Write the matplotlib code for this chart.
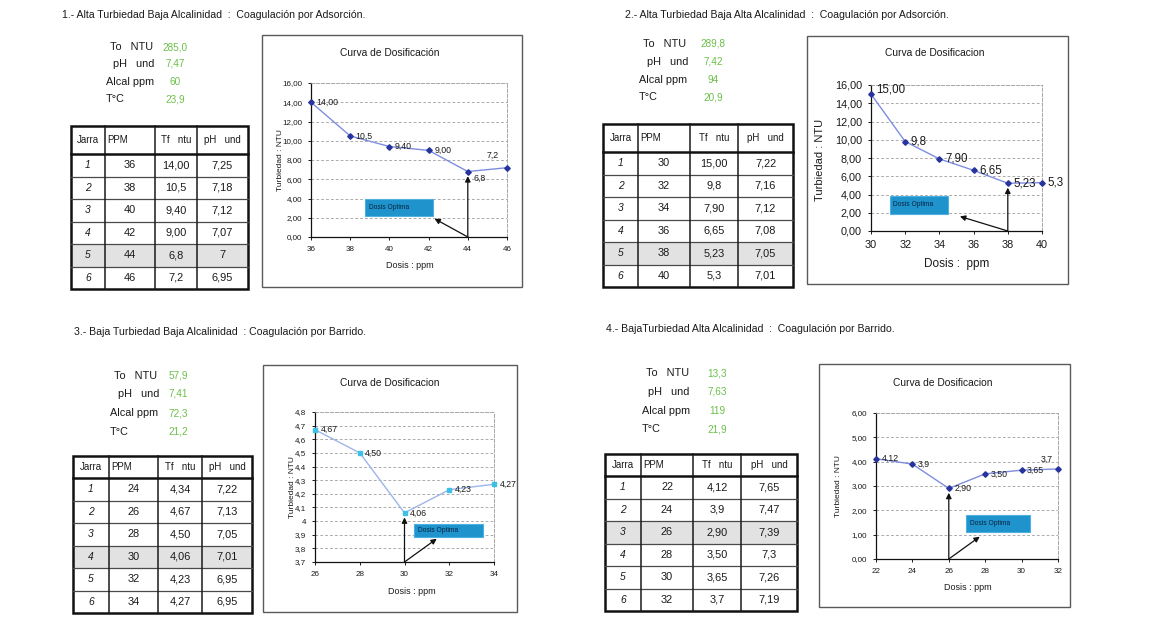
import matplotlib
matplotlib.use('Agg')
import matplotlib.pyplot as plt
from matplotlib.patches import Rectangle
from matplotlib.ticker import FixedLocator, FixedFormatter

W, H = 1163, 619
plt.rcParams['font.family'] = ['Liberation Sans Narrow', 'Liberation Sans', 'DejaVu Sans']

# ------------------------------------------------------------------ data
titles = [
    "1.- Alta Turbiedad Baja Alcalinidad  :  Coagulación por Adsorción.",
    "2.- Alta Turbiedad Baja Alta Alcalinidad  :  Coagulación por Adsorción.",
    "3.- Baja Turbiedad Baja Alcalinidad  : Coagulación por Barrido.",
    "4.- BajaTurbiedad Alta Alcalinidad  :  Coagulación por Barrido.",
]
param_labels = ["To   NTU", "pH   und", "Alcal ppm", "T°C"]
params1 = ["285,0", "7,47", "60", "23,9"]
params2 = ["289,8", "7,42", "94", "20,9"]
params3 = ["57,9", "7,41", "72,3", "21,2"]
params4 = ["13,3", "7,63", "119", "21,9"]

table_header = ["Jarra", "PPM", "Tf   ntu", "pH   und"]
jarras = ["1", "2", "3", "4", "5", "6"]

ppm1 = [36, 38, 40, 42, 44, 46]
tf1 = ["14,00", "10,5", "9,40", "9,00", "6,8", "7,2"]
ph1 = ["7,25", "7,18", "7,12", "7,07", "7", "6,95"]
opt1 = 4

ppm2 = [30, 32, 34, 36, 38, 40]
tf2 = ["15,00", "9,8", "7,90", "6,65", "5,23", "5,3"]
ph2 = ["7,22", "7,16", "7,12", "7,08", "7,05", "7,01"]
opt2 = 4

ppm3 = [24, 26, 28, 30, 32, 34]
tf3 = ["4,34", "4,67", "4,50", "4,06", "4,23", "4,27"]
ph3 = ["7,22", "7,13", "7,05", "7,01", "6,95", "6,95"]
opt3 = 3
first_plotted3 = 1

ppm4 = [22, 24, 26, 28, 30, 32]
tf4 = ["4,12", "3,9", "2,90", "3,50", "3,65", "3,7"]
ph4 = ["7,65", "7,47", "7,39", "7,3", "7,26", "7,19"]
opt4 = 2

chart_titles = ["Curva de Dosificación", "Curva de Dosificacion",
                "Curva de Dosificacion", "Curva de Dosificacion"]
xlabels = ["Dosis : ppm", "Dosis :  ppm", "Dosis : ppm", "Dosis : ppm"]
ylabel = "Turbiedad : NTU"
annot_text = "Dosis Optima"

xticks1 = [36, 38, 40, 42, 44, 46]
xticks2 = [30, 32, 34, 36, 38, 40]
xticks3 = [26, 28, 30, 32, 34]
xticks4 = [22, 24, 26, 28, 30, 32]
yticks1 = [0, 2, 4, 6, 8, 10, 12, 14, 16]
yticks2 = [0, 2, 4, 6, 8, 10, 12, 14, 16]
yticks3 = [3.7, 3.8, 3.9, 4.0, 4.1, 4.2, 4.3, 4.4, 4.5, 4.6, 4.7, 4.8]
yticks4 = [0, 1, 2, 3, 4, 5, 6]
ytick_labels1 = ["0,00", "2,00", "4,00", "6,00", "8,00", "10,00", "12,00", "14,00", "16,00"]
ytick_labels2 = ytick_labels1
ytick_labels3 = ["3,7", "3,8", "3,9", "4", "4,1", "4,2", "4,3", "4,4", "4,5", "4,6", "4,7", "4,8"]
ytick_labels4 = ["0,00", "1,00", "2,00", "3,00", "4,00", "5,00", "6,00"]


def num(s):
    return float(s.replace(',', '.'))


# ------------------------------------------------------------------ layout (pixels)
panels = [
    dict(title=(62, 15), px=106, pdx=[4, 7, 0, 0], pys=[47, 64, 82, 99], pvx=175, params=params1,
         tx=[71, 105, 155, 197, 248], ty=(126, 154, 289),
         ppm=ppm1, tf=tf1, ph=ph1, opt=opt1, first=0,
         box=(262, 35, 522, 287), plot=(311, 83, 507, 237),
         ct=(390, 53), xl=(410, 265), yl=(280, 160), fs=5.8, cfs=7.4,
         xt=xticks1, yt=yticks1, ytl=ytick_labels1,
         abox=(0.275, 0.135, 0.623, 0.244), ahead=(0.63, 0.119),
         lc='#7f8de0', mc='#26349c', mk='D', ms=2.8,
         offs={4: (4, -5, 'left'), 5: (-10, 9, 'center')}),
    dict(title=(625, 15), px=639, pdx=[4, 8, 0, 0], pys=[44, 62, 80, 97], pvx=713, params=params2,
         tx=[603, 638, 690, 738, 793], ty=(124, 152, 287),
         ppm=ppm2, tf=tf2, ph=ph2, opt=opt2, first=0,
         box=(807, 36, 1068, 284), plot=(871, 85, 1042, 231),
         ct=(935, 53), xl=(957, 264), yl=(820, 160), fs=7.8, cfs=7.4,
         xt=xticks2, yt=yticks2, ytl=ytick_labels2,
         abox=(0.111, 0.119, 0.45, 0.239), ahead=(0.52, 0.10),
         lc='#7f8de0', mc='#26349c', mk='D', ms=2.8,
         offs={0: (4, 3, 'left')}),
    dict(title=(74, 332), px=110, pdx=[4, 8, 0, 0], pys=[376, 394, 413, 432], pvx=178, params=params3,
         tx=[73, 109, 158, 202, 252], ty=(456, 478, 613),
         ppm=ppm3, tf=tf3, ph=ph3, opt=opt3, first=first_plotted3,
         box=(263, 365, 517, 612), plot=(315, 412, 494, 562),
         ct=(390, 383), xl=(412, 591), yl=(292, 487), fs=5.8, cfs=7.4,
         xt=xticks3, yt=yticks3, ytl=ytick_labels3,
         abox=(0.553, 0.164, 0.94, 0.255), ahead=(0.68, 0.155),
         lc='#9cb6ea', mc='#3cc0e6', mk='s', ms=3.2,
         offs={}),
    dict(title=(606, 329), px=642, pdx=[4, 6, 0, 0], pys=[373, 392, 411, 429], pvx=717, params=params4,
         tx=[605, 641, 693, 741, 797], ty=(454, 476, 611),
         ppm=ppm4, tf=tf4, ph=ph4, opt=opt4, first=0,
         box=(819, 364, 1070, 607), plot=(876, 413, 1058, 559),
         ct=(943, 383), xl=(968, 587), yl=(839, 486), fs=5.8, cfs=7.4,
         xt=xticks4, yt=yticks4, ytl=ytick_labels4,
         abox=(0.497, 0.183, 0.848, 0.298), ahead=(0.57, 0.153),
         lc='#7f8de0', mc='#26349c', mk='D', ms=2.8,
         offs={5: (-8, 7, 'center')}),
]

fig = plt.figure(figsize=(W / 100, H / 100), dpi=100)
bg = fig.add_axes([0, 0, 1, 1])
bg.set_xlim(0, W)
bg.set_ylim(H, 0)
bg.axis('off')

TXT = '#1a1a1a'
GREEN = '#6cbf4a'

for idx, p in enumerate(panels):
    # panel title
    bg.text(*p['title'], titles[idx], fontsize=7.6, color=TXT, ha='left', va='center')
    # parameters
    for lab, dx, y, val in zip(param_labels, p['pdx'], p['pys'], p['params']):
        bg.text(p['px'] + dx, y, lab, fontsize=7.8, color=TXT, ha='left', va='center')
        bg.text(p['pvx'], y, val, fontsize=7.2, color=GREEN, ha='center', va='center')
    # table
    xs = p['tx']
    ytop, yh, ybot = p['ty']
    rh = (ybot - yh) / len(jarras)
    ro = p['opt']
    bg.add_patch(Rectangle((xs[0], yh + ro * rh), xs[-1] - xs[0], rh,
                           facecolor='#e2e2e2', edgecolor='none', zorder=0))
    for i in range(1, len(jarras)):
        bg.plot([xs[0], xs[-1]], [yh + i * rh] * 2, color='#4a4a4a', lw=0.9)
    for x in xs[1:-1]:
        bg.plot([x, x], [ytop, ybot], color='#1a1a1a', lw=1.1)
    bg.plot([xs[0], xs[-1]], [yh, yh], color='#111111', lw=1.8)
    bg.add_patch(Rectangle((xs[0], ytop), xs[-1] - xs[0], ybot - ytop,
                           facecolor='none', edgecolor='#111111', lw=1.8))
    hy = (ytop + yh) / 2
    bg.text((xs[0] + xs[1]) / 2, hy, table_header[0], fontsize=7.0, color=TXT, ha='center', va='center')
    bg.text(xs[1] + 2, hy, table_header[1], fontsize=7.0, color=TXT, ha='left', va='center')
    bg.text((xs[2] + xs[3]) / 2, hy, table_header[2], fontsize=7.0, color=TXT, ha='center', va='center')
    bg.text((xs[3] + xs[4]) / 2, hy, table_header[3], fontsize=7.0, color=TXT, ha='center', va='center')
    for i, (j, pp, t, ph) in enumerate(zip(jarras, p['ppm'], p['tf'], p['ph'])):
        cy = yh + (i + 0.5) * rh
        bg.text((xs[0] + xs[1]) / 2, cy, j, fontsize=7.4, style='italic', color=TXT, ha='center', va='center')
        bg.text((xs[1] + xs[2]) / 2, cy, str(pp), fontsize=7.9, color=TXT, ha='center', va='center')
        bg.text((xs[2] + xs[3]) / 2, cy, t, fontsize=7.9, color=TXT, ha='center', va='center')
        bg.text((xs[3] + xs[4]) / 2, cy, ph, fontsize=7.9, color=TXT, ha='center', va='center')

    # chart frame and labels
    bx0, by0, bx1, by1 = p['box']
    bg.add_patch(Rectangle((bx0, by0), bx1 - bx0, by1 - by0, facecolor='none',
                           edgecolor='#5a5a5a', lw=1.0))
    bg.text(*p['ct'], chart_titles[idx], fontsize=p['cfs'], color=TXT, ha='center', va='center')
    bg.text(*p['xl'], xlabels[idx], fontsize=p['fs'] + 0.7, color=TXT, ha='center', va='center')
    bg.text(*p['yl'], ylabel, fontsize=p['fs'] + 0.2, color=TXT, ha='center', va='center', rotation=90)

    px0, py0, px1, py1 = p['plot']
    ax = fig.add_axes([px0 / W, 1 - py1 / H, (px1 - px0) / W, (py1 - py0) / H])
    ax.set_facecolor('none')
    xt, yt = p['xt'], p['yt']
    ax.set_xlim(xt[0], xt[-1])
    ax.set_ylim(yt[0], yt[-1])
    ax.xaxis.set_major_locator(FixedLocator(xt))
    ax.yaxis.set_major_locator(FixedLocator(yt))
    ax.yaxis.set_major_formatter(FixedFormatter(p['ytl']))
    ax.tick_params(labelsize=p['fs'], length=2.5, width=0.7, pad=4, colors=TXT)
    for y in yt[1:-1]:
        ax.axhline(y, color='#8a8a8a', lw=0.5, ls=(0, (4, 3)), zorder=0)
    for s in ['left', 'bottom']:
        ax.spines[s].set_color('#111111')
        ax.spines[s].set_linewidth(0.9)
    for s in ['top', 'right']:
        ax.spines[s].set_color('#9a9a9a')
        ax.spines[s].set_linewidth(0.6)
        ax.spines[s].set_linestyle((0, (4, 2)))

    f = p['first']
    xv = p['ppm'][f:]
    yv = [num(s) for s in p['tf'][f:]]
    ax.plot(xv, yv, color=p['lc'], lw=1.0, marker=p['mk'], ms=p['ms'],
            mfc=p['mc'], mec=p['mc'], zorder=3, clip_on=False)
    for k, (x, y, s) in enumerate(zip(xv, yv, p['tf'][f:])):
        dx, dy, ha = p['offs'].get(k + f, (4, 0, 'left'))
        ax.annotate(s, (x, y), xytext=(dx, dy), textcoords='offset points',
                    fontsize=p['fs'] + 0.5, color=TXT, ha=ha, va='center', annotation_clip=False)

    # optimum annotation
    xo = p['ppm'][ro]
    yo = num(p['tf'][ro])
    yr = yt[-1] - yt[0]
    ax.annotate('', xy=(xo, yo - 0.03 * yr), xytext=(xo, yt[0]),
                arrowprops=dict(arrowstyle='-|>', color='#111111', lw=0.9,
                                mutation_scale=8, shrinkA=0, shrinkB=0))
    ax.annotate('', xy=p['ahead'], xycoords='axes fraction', xytext=(xo, yt[0]),
                textcoords='data',
                arrowprops=dict(arrowstyle='-|>', color='#111111', lw=0.9,
                                mutation_scale=8, shrinkA=0, shrinkB=0))
    a0, b0, a1, b1 = p['abox']
    ax.add_patch(Rectangle((a0, b0), a1 - a0, b1 - b0, transform=ax.transAxes,
                           facecolor='#1e93cc', edgecolor='#4db0e0', lw=0.8, zorder=4))
    ax.text(a0 + 0.02, (b0 + b1) / 2, annot_text, transform=ax.transAxes, fontsize=4.8,
            color='#0b2240', ha='left', va='center', zorder=5)

fig.savefig('out.png', dpi=100, facecolor='white')
